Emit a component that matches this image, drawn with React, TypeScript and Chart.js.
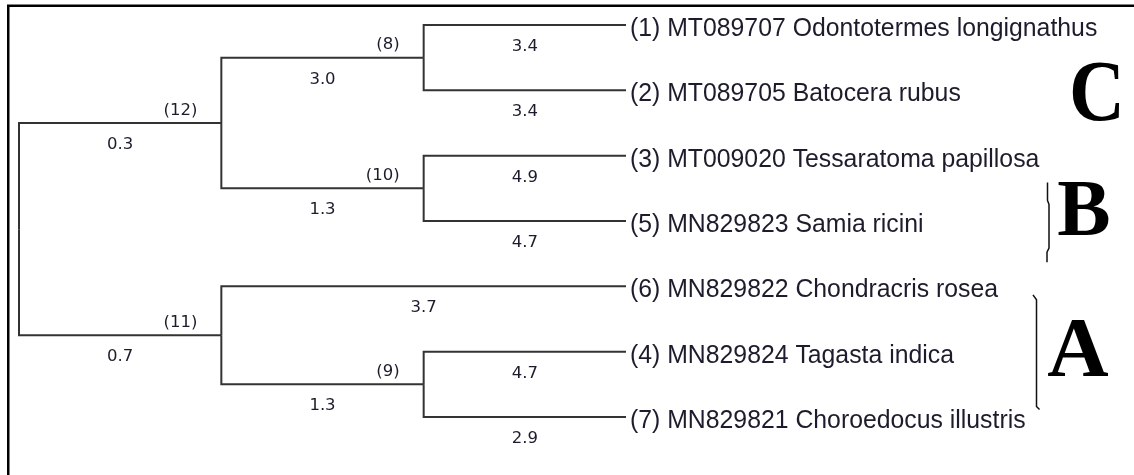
import React, { useEffect, useRef } from "react";
import { Chart, registerables } from "chart.js";

Chart.register(...registerables);

// Tree nodes: 0..6 are leaves (top to bottom), 7..11 internal nodes, 12 root
const nodeNames = [
  "(1) MT089707 Odontotermes longignathus",
  "(2) MT089705 Batocera rubus",
  "(3) MT009020 Tessaratoma papillosa",
  "(5) MN829823 Samia ricini",
  "(6) MN829822 Chondracris rosea",
  "(4) MN829824 Tagasta indica",
  "(7) MN829821 Choroedocus illustris",
  "(8)",
  "(10)",
  "(12)",
  "(9)",
  "(11)",
  "",
];
const nodeParents = [7, 7, 8, 8, 11, 10, 10, 9, 9, 12, 11, 12, -1];
const branchLengths = [3.4, 3.4, 4.9, 4.7, 3.7, 4.7, 2.9, 3.0, 1.3, 0.3, 1.3, 0.7, null];
const leafCount = 7;

// Clade annotations
const cladeLetters = ["C", "B", "A"];

function nodeDepth(i: number): number {
  let d = 0;
  let p = nodeParents[i];
  while (p >= 0) {
    d++;
    p = nodeParents[p];
  }
  return d;
}

const maxDepth = Math.max(...nodeNames.map((_, i) => nodeDepth(i)));
const nodeX = nodeNames.map((_, i) => (i < leafCount ? maxDepth : nodeDepth(i)));
const nodeY: number[] = [];
function computeY(i: number): number {
  if (nodeY[i] !== undefined) return nodeY[i];
  if (i < leafCount) {
    nodeY[i] = i;
    return i;
  }
  const kids = nodeParents.map((p, k) => (p === i ? k : -1)).filter((k) => k >= 0);
  const v = kids.reduce((s, k) => s + computeY(k), 0) / kids.length;
  nodeY[i] = v;
  return v;
}
nodeNames.forEach((_, i) => computeY(i));

const LINE = "#333333";
const TEXT = "#1c1c2c";

export default function App() {
  const ref = useRef<HTMLCanvasElement | null>(null);
  useEffect(() => {
    document.body.style.margin = "0";
    const canvas = ref.current!;
    const datasets = nodeParents
      .map((p, i) => {
        if (p < 0) return null;
        return {
          data: [
            { x: nodeX[p], y: nodeY[p] },
            { x: nodeX[p], y: nodeY[i] },
            { x: nodeX[i], y: nodeY[i] },
          ],
          showLine: true,
          borderColor: LINE,
          borderWidth: 2,
          pointRadius: 0,
          tension: 0,
          clip: false as any,
        };
      })
      .filter(Boolean) as any[];

    const annot = {
      id: "annot",
      afterDatasetsDraw(chart: any) {
        const ctx = chart.ctx as CanvasRenderingContext2D;
        const xs = chart.scales.x;
        const ys = chart.scales.y;
        ctx.save();
        // frame
        ctx.fillStyle = "#000";
        ctx.fillRect(7, 5, 2.5, 470);
        ctx.fillRect(7, 4.5, 1127, 2.5);

        nodeNames.forEach((name, i) => {
          const p = nodeParents[i];
          if (p < 0) return;
          const px = xs.getPixelForValue(nodeX[p]);
          const cx = xs.getPixelForValue(nodeX[i]);
          const cy = ys.getPixelForValue(nodeY[i]);
          ctx.fillStyle = TEXT;
          ctx.font = '16.5px "DejaVu Sans"';
          ctx.textAlign = "center";
          ctx.textBaseline = "alphabetic";
          const bl = branchLengths[i];
          if (bl !== null) ctx.fillText(bl.toFixed(1), (px + cx) / 2, cy + 26);
          if (i < leafCount) {
            ctx.save();
            ctx.translate(cx + 4, cy + 11);
            ctx.scale(1, 1.07);
            ctx.font = '24.8px "Liberation Sans"';
            ctx.textAlign = "left";
            ctx.fillText(name, 0, 0);
            ctx.restore();
          } else {
            ctx.font = '16.5px "DejaVu Sans"';
            ctx.textAlign = "right";
            ctx.fillText(name, cx - 24, cy - 8.5);
          }
        });

        // clade letters
        ctx.fillStyle = "#000";
        ctx.textAlign = "center";
        ctx.textBaseline = "alphabetic";
        const letterPos = [
          { x: 1097, y: ys.getPixelForValue(1.46), size: 86, sx: 0.9 },
          { x: 1084, y: ys.getPixelForValue(3.21), size: 80, sx: 1 },
          { x: 1078, y: ys.getPixelForValue(5.37), size: 85, sx: 1 },
        ];
        cladeLetters.forEach((l, k) => {
          ctx.save();
          ctx.translate(letterPos[k].x, letterPos[k].y);
          ctx.scale(letterPos[k].sx, 1);
          ctx.font = `bold ${letterPos[k].size}px "Liberation Serif"`;
          ctx.fillText(l, 0, 0);
          ctx.restore();
        });

        // brackets
        ctx.strokeStyle = "#111";
        ctx.lineWidth = 1.5;
        ctx.beginPath();
        const b0 = ys.getPixelForValue(2.41);
        const b1 = ys.getPixelForValue(3.63);
        ctx.moveTo(1047.5, b0);
        ctx.lineTo(1047.5, b0 + 18);
        ctx.lineTo(1049, b0 + 22);
        ctx.lineTo(1049, b1 - 14);
        ctx.lineTo(1047, b1 - 10);
        ctx.lineTo(1047, b1);
        ctx.stroke();

        ctx.beginPath();
        const a0 = ys.getPixelForValue(4.13);
        const a1 = ys.getPixelForValue(5.87);
        ctx.moveTo(1033, a0);
        ctx.lineTo(1036.5, a0 + 5);
        ctx.lineTo(1036.5, a1 - 2);
        ctx.lineTo(1039.5, a1 + 1);
        ctx.stroke();
        ctx.restore();
      },
    };

    const chart = new Chart(canvas, {
      type: "scatter",
      data: { datasets },
      options: {
        responsive: false,
        animation: false,
        layout: { padding: { left: 19, right: 508, top: 25, bottom: 58 } },
        scales: {
          x: { type: "linear", min: 0, max: maxDepth, display: false },
          y: { type: "linear", min: 0, max: leafCount - 1, reverse: true, display: false },
        },
        plugins: { legend: { display: false }, tooltip: { enabled: false } },
      },
      plugins: [annot],
    });
    return () => chart.destroy();
  }, []);
  return (
    <div style={{ width: 1134, height: 475, background: "#fff" }}>
      <canvas ref={ref} width={1134} height={475} style={{ display: "block" }} />
    </div>
  );
}
